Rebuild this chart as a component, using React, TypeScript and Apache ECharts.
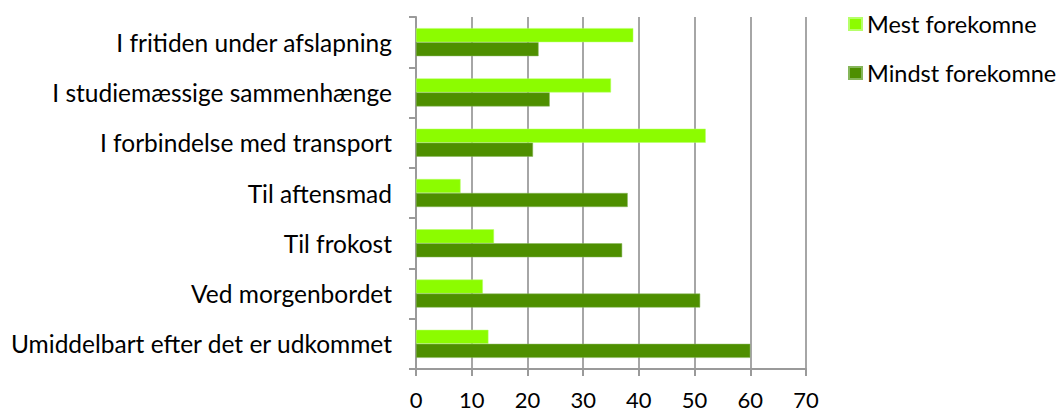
import React, { useEffect, useRef } from "react";
import * as echarts from "echarts";

const categories = [
  "I fritiden under afslapning",
  "I studiemæssige sammenhænge",
  "I forbindelse med transport",
  "Til aftensmad",
  "Til frokost",
  "Ved morgenbordet",
  "Umiddelbart efter det er udkommet",
];
const mestValues = [39, 35, 52, 8, 14, 12, 13];
const mindstValues = [22, 24, 21, 38, 37, 51, 60];
const seriesNames = ["Mest forekomne", "Mindst forekomne"];
const xTicks = { min: 0, max: 70, interval: 10 };

const FONT = "Lato, 'Open Sans', sans-serif";

export default function App() {
  const ref = useRef<HTMLDivElement>(null);
  useEffect(() => {
    document.body.style.margin = "0";
    const chart = echarts.init(ref.current!, null, { renderer: "svg" });
    chart.setOption({
      animation: false,
      backgroundColor: "#ffffff",
      textStyle: { fontFamily: FONT },
      grid: { left: 416, top: 17, right: 255, bottom: 43, containLabel: false },
      legend: {
        orient: "vertical",
        left: 843,
        top: 7,
        itemWidth: 13,
        itemHeight: 12,
        itemGap: 25,
        icon: "rect",
        data: seriesNames,
        textStyle: { fontFamily: FONT, fontSize: 23.5, lineHeight: 24, color: "#000" },
      },
      xAxis: {
        type: "value",
        min: xTicks.min,
        max: xTicks.max,
        interval: xTicks.interval,
        axisLine: { show: true, lineStyle: { color: "#9a9a9a", width: 2 } },
        axisTick: { show: true, length: 7, lineStyle: { color: "#9a9a9a", width: 2 } },
        splitLine: { show: true, lineStyle: { color: "#a6a6a6", width: 2 } },
        axisLabel: { fontFamily: FONT, fontSize: 22, lineHeight: 22, color: "#000", margin: 19 },
      },
      yAxis: {
        type: "category",
        inverse: true,
        data: categories,
        axisLine: { show: true, lineStyle: { color: "#9a9a9a", width: 2 } },
        axisTick: { show: true, length: 7, lineStyle: { color: "#9a9a9a", width: 2 } },
        axisLabel: { fontFamily: FONT, fontSize: 24.5, color: "#000", margin: 24 },
      },
      series: [
        {
          name: seriesNames[0],
          type: "bar",
          data: mestValues,
          barWidth: 14,
          barGap: "0%",
          itemStyle: { color: "#8cfc00", borderColor: "#b6ff6a", borderWidth: 0.5 },
        },
        {
          name: seriesNames[1],
          type: "bar",
          data: mindstValues,
          barWidth: 14,
          barGap: "0%",
          itemStyle: { color: "#4e8f00", borderColor: "#86b65a", borderWidth: 0.5 },
        },
      ],
    });
    return () => chart.dispose();
  }, []);
  return <div ref={ref} style={{ width: 1061, height: 412 }} />;
}
